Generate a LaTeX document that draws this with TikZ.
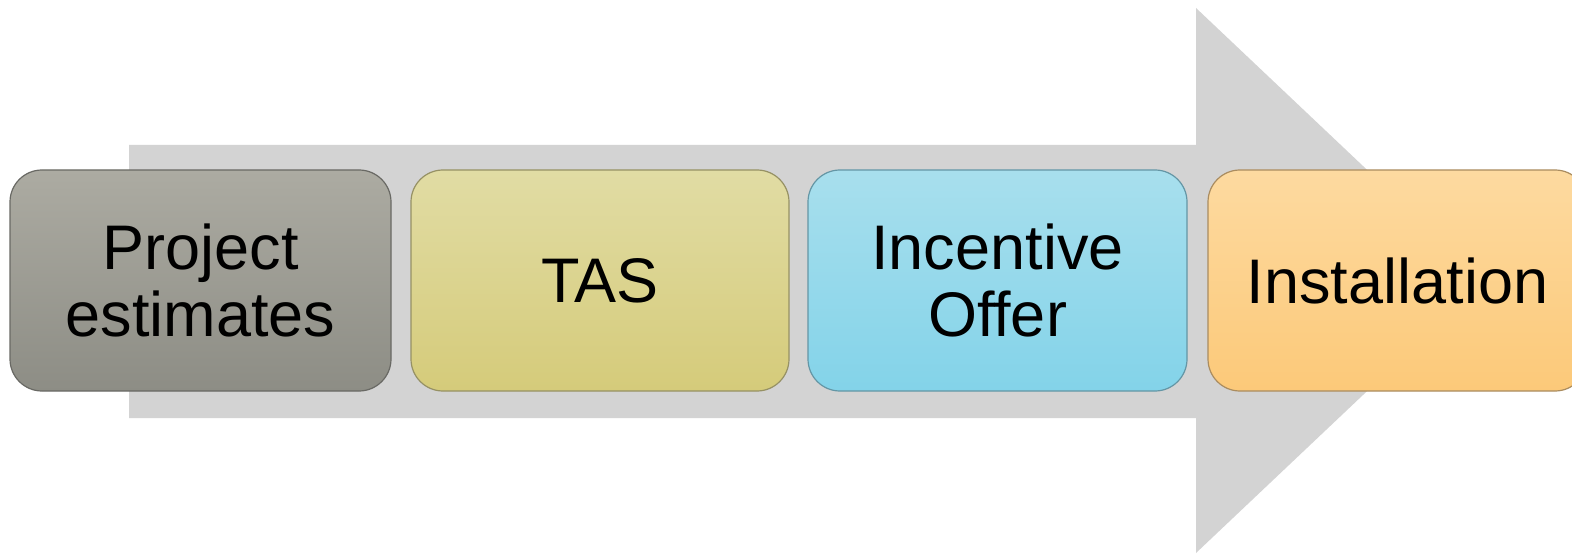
\documentclass[tikz,border=0pt]{standalone}
\usepackage{fontspec}
\setmainfont{Liberation Sans}
\definecolor{arrowgray}{RGB}{211,211,211}
\definecolor{gAtop}{RGB}{172,171,162}
\definecolor{gAbot}{RGB}{141,141,133}
\definecolor{gAline}{RGB}{105,105,100}
\definecolor{gBtop}{RGB}{225,220,164}
\definecolor{gBbot}{RGB}{213,203,122}
\definecolor{gBline}{RGB}{150,145,100}
\definecolor{gCtop}{RGB}{168,223,237}
\definecolor{gCbot}{RGB}{131,211,233}
\definecolor{gCline}{RGB}{100,150,165}
\definecolor{gDtop}{RGB}{253,218,160}
\definecolor{gDbot}{RGB}{252,201,121}
\definecolor{gDline}{RGB}{170,140,95}
\tikzset{
  stepbox/.style={rounded corners=32pt, minimum height=221pt, inner sep=0pt,
    line width=1.2pt, align=center, font=\fontsize{63}{67}\selectfont, text=black},
}
\begin{document}
\begin{tikzpicture}[x=1pt,y=-1pt]
\useasboundingbox (0,0) rectangle (1572,556);
\clip (0,0) rectangle (1572,556);
\fill[arrowgray] (129,145) -- (1196,145) -- (1196,8) -- (1484,280.5) -- (1196,553) -- (1196,418) -- (129,418) -- cycle;
\node[stepbox, minimum width=381pt, draw=gAline, top color=gAtop, bottom color=gAbot] (pe) at (200.5,280.5) {Project\\estimates};
\node[stepbox, minimum width=378pt, draw=gBline, top color=gBtop, bottom color=gBbot] (tas) at (600,280.5) {TAS};
\node[stepbox, minimum width=379pt, draw=gCline, top color=gCtop, bottom color=gCbot] (io) at (997.5,280.5) {Incentive\\Offer};
\node[stepbox, minimum width=379pt, draw=gDline, top color=gDtop, bottom color=gDbot] (inst) at (1397.5,280.5) {Installation};
\end{tikzpicture}
\end{document}
